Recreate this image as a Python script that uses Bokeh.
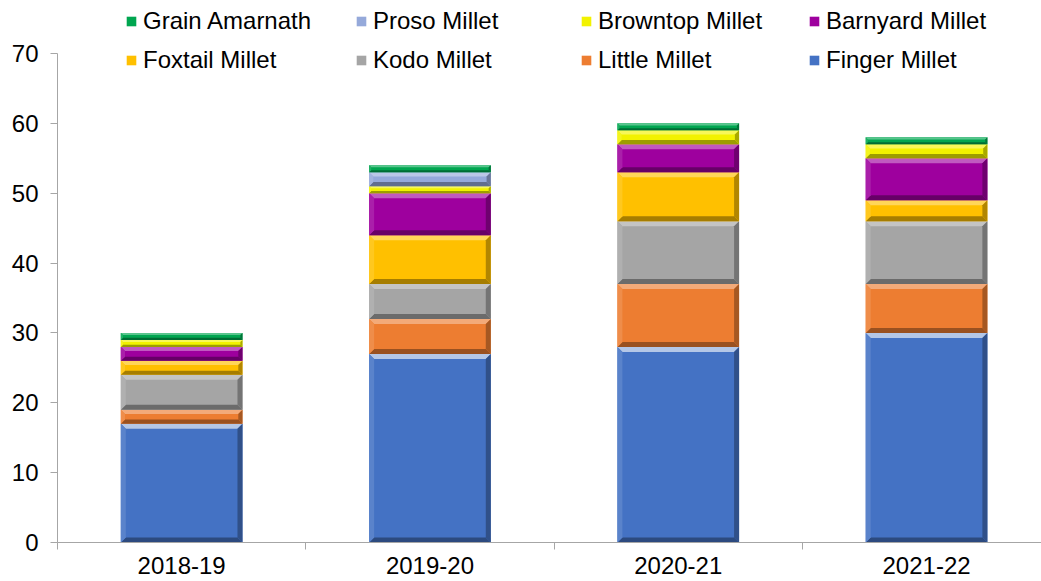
from bokeh.plotting import figure
from bokeh.models import Range1d, FixedTicker, Legend, LegendItem
from bokeh.embed import file_html
from bokeh.resources import INLINE

# Millet area by year (stacked from the bottom up)
years = ["2018-19", "2019-20", "2020-21", "2021-22"]
finger_millet = [17, 27, 28, 30]
little_millet = [2, 5, 9, 7]
kodo_millet = [5, 5, 9, 9]
foxtail_millet = [2, 7, 7, 3]
barnyard_millet = [2, 6, 4, 6]
browntop_millet = [1, 1, 2, 2]
proso_millet = [0, 2, 0, 0]
grain_amarnath = [1, 1, 1, 1]

series = [
    ("Finger Millet", finger_millet, "#4472C4"),
    ("Little Millet", little_millet, "#ED7D31"),
    ("Kodo Millet", kodo_millet, "#A5A5A5"),
    ("Foxtail Millet", foxtail_millet, "#FFC000"),
    ("Barnyard Millet", barnyard_millet, "#9E009E"),
    ("Browntop Millet", browntop_millet, "#F2F200"),
    ("Proso Millet", proso_millet, "#95A9DA"),
    ("Grain Amarnath", grain_amarnath, "#00A650"),
]

W, H = 1041, 581
LEFT, BOTTOM = 57, 39
FRAME_W, FRAME_H = W - LEFT, H - BOTTOM
Y_MAX = 70
Y_TOP = Y_MAX * FRAME_H / 489.0          # room above the axis for the legend
X_END = FRAME_W / 248.3                   # one category = 248.3 px
BAR_W = 0.49

FONT = "Liberation Sans"
FONT_SIZE = "24px"

p = figure(width=W, height=H, output_backend="svg", toolbar_location=None,
           x_range=Range1d(0, X_END), y_range=Range1d(0, Y_TOP),
           min_border_left=LEFT, min_border_right=0, min_border_top=0,
           min_border_bottom=BOTTOM)
p.outline_line_color = None
p.xgrid.visible = False
p.ygrid.visible = False
p.background_fill_color = "white"
p.border_fill_color = "white"


def mix(hex_color, other, t):
    c = [int(hex_color[i:i + 2], 16) for i in (1, 3, 5)]
    o = [int(other[i:i + 2], 16) for i in (1, 3, 5)]
    m = [round(a + (b - a) * t) for a, b in zip(c, o)]
    return "#%02x%02x%02x" % tuple(m)


ux = X_END / FRAME_W   # data units per pixel, x
uy = Y_TOP / FRAME_H   # data units per pixel, y

centers = [i + 0.5 for i in range(len(years))]
base = [0.0] * len(years)
legend_renderers = {}

for name, vals, color in series:
    tops = [b + v for b, v in zip(base, vals)]
    lefts = [c - BAR_W / 2 for c in centers]
    rights = [c + BAR_W / 2 for c in centers]
    r = p.quad(left=lefts, right=rights, bottom=base, top=tops,
               fill_color=color, line_color=None)
    legend_renderers[name] = (r, color)

    # bevel edges around each segment
    tx, bx, lx, rx = [], [], [], []
    ty, by, ly, ry = [], [], [], []
    for l, rr, b, t, v in zip(lefts, rights, base, tops, vals):
        if v <= 0:
            continue
        seg_px = v / uy
        bp = min(5.0, seg_px * 0.3)
        dx, dy = bp * ux, bp * uy
        tx.append([l, rr, rr - dx, l + dx]); ty.append([t, t, t - dy, t - dy])
        bx.append([l, rr, rr - dx, l + dx]); by.append([b, b, b + dy, b + dy])
        lx.append([l, l, l + dx, l + dx]); ly.append([b, t, t - dy, b + dy])
        rx.append([rr, rr, rr - dx, rr - dx]); ry.append([b, t, t - dy, b + dy])
    hi = 0.6 if name == "Finger Millet" else 0.35
    p.patches(tx, ty, fill_color=mix(color, "#ffffff", hi), line_color=None)
    p.patches(bx, by, fill_color=mix(color, "#000000", 0.35), line_color=None)
    p.patches(lx, ly, fill_color=mix(color, "#ffffff", 0.12), line_color=None)
    p.patches(rx, ry, fill_color=mix(color, "#000000", 0.3), line_color=None)
    base = tops

# axes
axis_color = "#a6a6a6"
yax = p.yaxis[0]
yax.ticker = FixedTicker(ticks=list(range(0, Y_MAX + 1, 10)))
yax.bounds = (0, Y_MAX)
yax.axis_line_color = axis_color
yax.major_tick_line_color = axis_color
yax.major_tick_in = 0
yax.major_tick_out = 7
yax.minor_tick_line_color = None
yax.major_label_text_font = FONT
yax.major_label_text_font_size = FONT_SIZE
yax.major_label_text_color = "#000000"
yax.major_label_standoff = 12

xax = p.xaxis[0]
xax.ticker = FixedTicker(ticks=centers, minor_ticks=list(range(len(years) + 1)))
xax.major_label_overrides = {c: y for c, y in zip(centers, years)}
xax.axis_line_color = axis_color
xax.major_tick_line_color = None
xax.major_tick_in = 0
xax.major_tick_out = 0
xax.minor_tick_line_color = axis_color
xax.minor_tick_in = 0
xax.minor_tick_out = 7
xax.major_label_text_font = FONT
xax.major_label_text_font_size = FONT_SIZE
xax.major_label_text_color = "#000000"
xax.major_label_standoff = 7

# legend: four columns, two rows
columns = [
    (68, ["Grain Amarnath", "Foxtail Millet"]),
    (298, ["Proso Millet", "Kodo Millet"]),
    (523, ["Browntop Millet", "Little Millet"]),
    (751, ["Barnyard Millet", "Finger Millet"]),
]
for x0, names in columns:
    items = [LegendItem(label=n, renderers=[legend_renderers[n][0]]) for n in names]
    lg = Legend(items=items, location=(x0, 468), orientation="vertical",
                padding=0, margin=0, spacing=11,
                glyph_width=12, glyph_height=12, label_height=28,
                label_standoff=6, label_text_font=FONT,
                label_text_font_size=FONT_SIZE, label_text_color="#000000",
                border_line_color=None, background_fill_alpha=0)
    p.add_layout(lg, "center")

open("out.html", "w").write(file_html(p, INLINE))
